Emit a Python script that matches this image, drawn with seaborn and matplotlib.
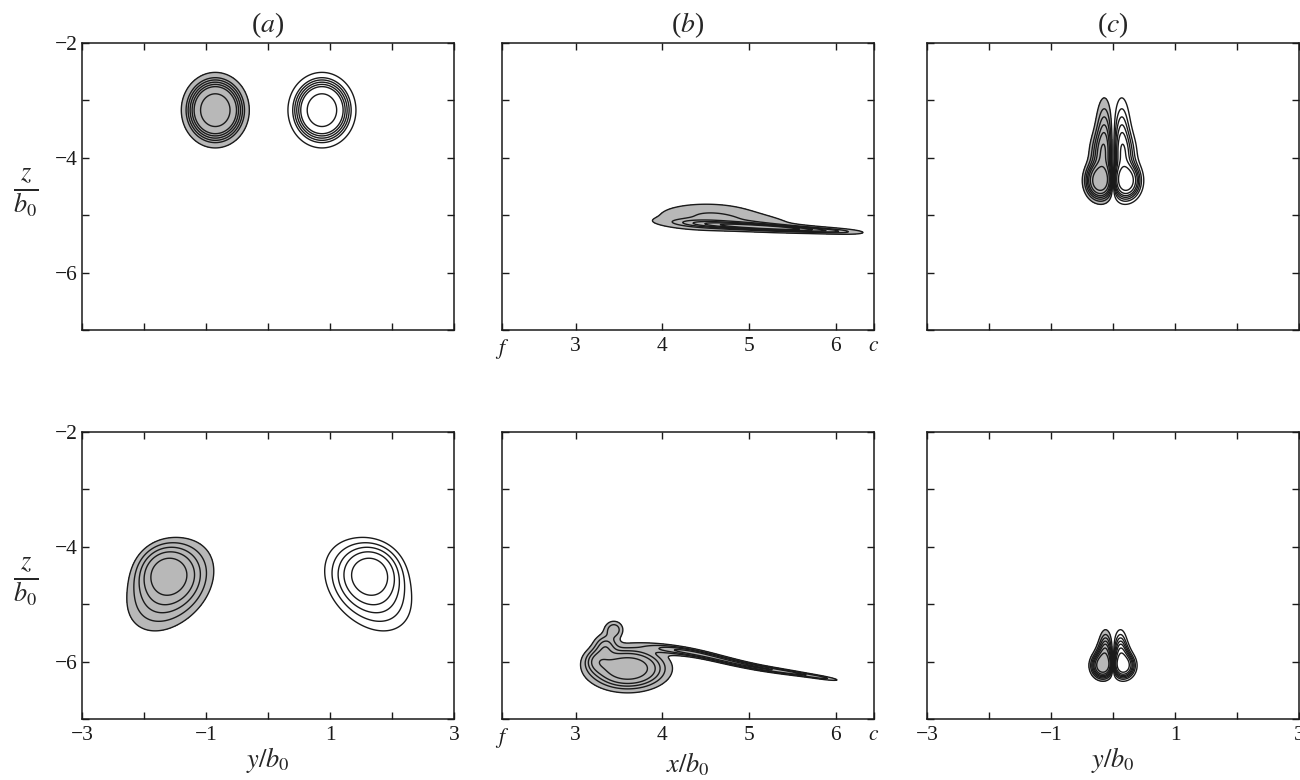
import numpy as np
import matplotlib
matplotlib.use("Agg")
import matplotlib.pyplot as plt
import seaborn as sns

# axis ranges (in units of b0)
span_y = (-3.0, 3.0)
span_z = (-7.0, -2.0)
span_x = (2.15, 6.44)

# ticks
y_ticks = [-3, -2, -1, 0, 1, 2, 3]
y_ticklabels = ["\u22123", "", "\u22121", "", "1", "", "3"]
z_ticks = [-7, -6, -5, -4, -3, -2]
z_ticklabels = ["", "\u22126", "", "\u22124", "", "\u22122"]
x_ticks = [2.15, 3, 4, 5, 6, 6.44]
x_ticklabels = ["$f$", "3", "4", "5", "6", "$c$"]

panel_titles = ["($a$)", "($b$)", "($c$)"]

# vortex blobs: (centre_u, centre_v, radius_u, radius_v, amplitude, slope)
# (a) upper: the two vortices, shaded one on the left
a_top_shaded = [(-0.85, -3.17, 0.55, 0.66, 1.0, 0.0)]
a_top_open = [(0.87, -3.17, 0.55, 0.66, 1.0, 0.0)]
a_top_levels = [0.37, 0.48, 0.53, 0.58, 0.63, 0.68, 0.83]

# (a) lower
a_bot_shaded = [(-1.63, -4.45, 0.38, 0.40, 0.60, 0.0),
                (-1.58, -4.70, 0.65, 0.68, 0.45, 0.40)]
a_bot_open = [(1.67, -4.45, 0.38, 0.40, 0.60, 0.0),
              (1.62, -4.70, 0.65, 0.68, 0.45, -0.40)]
a_bot_levels = [0.15, 0.235, 0.335, 0.46, 0.66]

# (b) upper: side view of the shaded vortex
b_top_blobs = [(4.50, -5.02, 0.50, 0.20, 0.30, 0.0),
               (5.10, -5.12, 0.45, 0.13, 0.18, -0.15),
               (4.30, -5.14, 0.35, 0.070, 0.15, -0.08),
               (4.55, -5.16, 0.35, 0.065, 0.25, -0.08),
               (4.80, -5.18, 0.35, 0.060, 0.35, -0.08),
               (5.05, -5.20, 0.35, 0.055, 0.40, -0.08),
               (5.30, -5.22, 0.35, 0.050, 0.40, -0.08),
               (5.55, -5.24, 0.35, 0.047, 0.38, -0.08),
               (5.80, -5.26, 0.35, 0.044, 0.32, -0.08),
               (6.05, -5.28, 0.25, 0.040, 0.18, -0.08)]
b_top_levels = [0.10, 0.30, 0.45, 0.60, 0.75, 0.90]

# (b) lower: rolled-up sheet with a hook and a long tail
b_bot_blobs = [(3.60, -6.12, 0.34, 0.28, 1.00, 0.0),
               (3.25, -5.98, 0.13, 0.18, 0.30, 0.0),
               (3.34, -5.72, 0.12, 0.18, 0.30, 0.0),
               (3.44, -5.44, 0.10, 0.14, 0.28, 0.0),
               (4.10, -5.80, 0.30, 0.070, 0.25, -0.20),
               (4.35, -5.85, 0.30, 0.060, 0.24, -0.30),
               (4.60, -5.93, 0.30, 0.055, 0.23, -0.35),
               (4.85, -6.02, 0.30, 0.050, 0.22, -0.32),
               (5.10, -6.10, 0.30, 0.045, 0.21, -0.28),
               (5.35, -6.16, 0.30, 0.040, 0.20, -0.24),
               (5.60, -6.22, 0.30, 0.035, 0.18, -0.24),
               (5.85, -6.28, 0.20, 0.030, 0.14, -0.24)]
b_bot_levels = [0.10, 0.20, 0.30, 0.42, 0.64]

# (c) dipole: left (shaded) lobe, the open lobe is its mirror image
c_top_lobe = [(-0.21, -4.40, 0.17, 0.24, 1.00, 0.0),
              (-0.19, -3.95, 0.16, 0.35, 0.25, 0.0),
              (-0.14, -3.70, 0.12, 0.60, 0.28, 0.0)]
c_top_levels = [0.06, 0.12, 0.18, 0.25, 0.33, 0.45, 0.65]
c_bot_lobe = [(-0.17, -6.07, 0.13, 0.16, 1.00, 0.0),
              (-0.15, -5.90, 0.11, 0.18, 0.25, 0.0),
              (-0.12, -5.80, 0.09, 0.28, 0.30, 0.0)]
c_bot_levels = [0.06, 0.12, 0.18, 0.25, 0.33, 0.45, 0.65]

shade = "#b8b8b8"
line_w = 1.0

sns.set_theme(style="ticks")
plt.rcParams["font.family"] = ["Liberation Serif", "DejaVu Serif"]
plt.rcParams["mathtext.fontset"] = "stix"
plt.rcParams["axes.unicode_minus"] = True


def field(U, V, blobs):
    # sum of sheared gaussian blobs
    f = np.zeros_like(U)
    for cu, cv, ru, rv, amp, s in blobs:
        du = (U - cu) / ru
        dv = (V - cv - s * (U - cu)) / rv
        f += amp * np.exp(-(du**2 + dv**2))
    return f


def draw(ax, U, V, shaded, opened, levels):
    ax.contourf(U, V, shaded, levels=[levels[0], 1e3], colors=[shade])
    ax.contour(U, V, shaded, levels=levels, colors="k", linewidths=line_w)
    if opened is not None:
        ax.contour(U, V, opened, levels=levels, colors="k", linewidths=line_w)


W, H = 1300, 780
fig = plt.figure(figsize=(W / 100, H / 100), dpi=100)
lefts = [82, 502, 927]
tops = [43, 432]
aw, ah = 372, 287
axes = [[fig.add_axes([l / W, (H - t - ah) / H, aw / W, ah / H]) for l in lefts]
        for t in tops]

gy = np.linspace(*span_y, 601)
gz = np.linspace(*span_z, 501)
gx = np.linspace(*span_x, 601)
Y, Z = np.meshgrid(gy, gz)
X, ZX = np.meshgrid(gx, gz)

# column (a)
draw(axes[0][0], Y, Z, field(Y, Z, a_top_shaded), field(Y, Z, a_top_open), a_top_levels)
draw(axes[1][0], Y, Z, field(Y, Z, a_bot_shaded), field(Y, Z, a_bot_open), a_bot_levels)

# column (b)
draw(axes[0][1], X, ZX, field(X, ZX, b_top_blobs), None, b_top_levels)
draw(axes[1][1], X, ZX, field(X, ZX, b_bot_blobs), None, b_bot_levels)

# column (c)
for row, lobe, lev in [(0, c_top_lobe, c_top_levels), (1, c_bot_lobe, c_bot_levels)]:
    w = field(Y, Z, lobe) - field(-Y, Z, lobe)
    draw(axes[row][2], Y, Z, np.clip(w, 0, None), np.clip(-w, 0, None), lev)

for r in range(2):
    for c in range(3):
        ax = axes[r][c]
        ax.set_ylim(*span_z)
        if c == 1:
            ax.set_xlim(*span_x)
            ax.set_xticks(x_ticks, labels=x_ticklabels)
        else:
            ax.set_xlim(*span_y)
            ax.set_xticks(y_ticks, labels=y_ticklabels)
            if r == 0:
                ax.set_xticklabels([])
        ax.set_yticks(z_ticks, labels=z_ticklabels)
        if c != 0:
            ax.set_yticklabels([])
        ax.tick_params(direction="in", length=5, width=1, top=True, right=True,
                       labelsize=15.5, pad=5, colors="k")
        ax.tick_params(axis="y", pad=3)
        for s in ax.spines.values():
            s.set_linewidth(1.1)
            s.set_color("k")
        ax.grid(False)

for c in range(3):
    axes[0][c].set_title(panel_titles[c], fontsize=20, pad=8)

for r in range(2):
    ax = axes[r][0]
    ax.set_ylabel(r"$\frac{z}{b_0}$", rotation=0, fontsize=27, va="center", ha="center")
    ax.yaxis.set_label_coords(-0.15, 0.48)

axes[1][0].set_xlabel(r"$y/b_0$", fontsize=19, labelpad=0)
axes[1][1].set_xlabel(r"$x/b_0$", fontsize=19, labelpad=0)
axes[1][2].set_xlabel(r"$y/b_0$", fontsize=19, labelpad=0)

fig.savefig("out.png", dpi=100)
